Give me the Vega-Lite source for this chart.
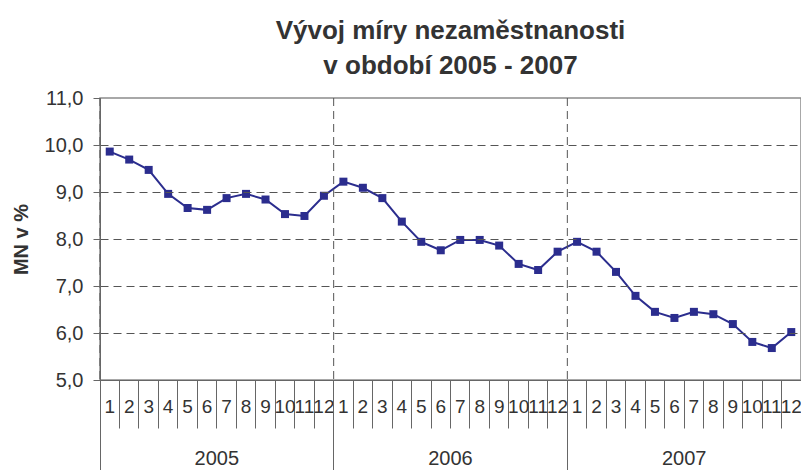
{
  "$schema": "https://vega.github.io/schema/vega-lite/v6.json",
  "width": 701,
  "height": 282,
  "autosize": {"type": "none"},
  "padding": {"left": 100, "top": 98, "right": 0, "bottom": 90},
  "background": "white",
  "config": {
    "font": "Liberation Sans",
    "view": {"stroke": "#8c8c8c", "strokeWidth": 1.5}
  },
  "title": {
    "text": ["Vývoj míry nezaměstnanosti", "v období 2005 - 2007"],
    "fontSize": 26,
    "fontWeight": "bold",
    "font": "Liberation Sans",
    "color": "#333333",
    "lineHeight": 35,
    "anchor": "middle",
    "offset": 9
  },
  "datasets": {
    "mn": [
      {"obdobi": "2005/1", "rok": "2005", "mn": 9.86},
      {"obdobi": "2005/2", "rok": "2005", "mn": 9.69},
      {"obdobi": "2005/3", "rok": "2005", "mn": 9.47},
      {"obdobi": "2005/4", "rok": "2005", "mn": 8.96},
      {"obdobi": "2005/5", "rok": "2005", "mn": 8.66},
      {"obdobi": "2005/6", "rok": "2005", "mn": 8.62},
      {"obdobi": "2005/7", "rok": "2005", "mn": 8.87},
      {"obdobi": "2005/8", "rok": "2005", "mn": 8.96},
      {"obdobi": "2005/9", "rok": "2005", "mn": 8.84},
      {"obdobi": "2005/10", "rok": "2005", "mn": 8.53},
      {"obdobi": "2005/11", "rok": "2005", "mn": 8.49},
      {"obdobi": "2005/12", "rok": "2005", "mn": 8.92},
      {"obdobi": "2006/1", "rok": "2006", "mn": 9.22},
      {"obdobi": "2006/2", "rok": "2006", "mn": 9.09},
      {"obdobi": "2006/3", "rok": "2006", "mn": 8.87},
      {"obdobi": "2006/4", "rok": "2006", "mn": 8.37},
      {"obdobi": "2006/5", "rok": "2006", "mn": 7.94},
      {"obdobi": "2006/6", "rok": "2006", "mn": 7.76},
      {"obdobi": "2006/7", "rok": "2006", "mn": 7.98},
      {"obdobi": "2006/8", "rok": "2006", "mn": 7.98},
      {"obdobi": "2006/9", "rok": "2006", "mn": 7.86},
      {"obdobi": "2006/10", "rok": "2006", "mn": 7.47},
      {"obdobi": "2006/11", "rok": "2006", "mn": 7.34},
      {"obdobi": "2006/12", "rok": "2006", "mn": 7.73},
      {"obdobi": "2007/1", "rok": "2007", "mn": 7.94},
      {"obdobi": "2007/2", "rok": "2007", "mn": 7.73},
      {"obdobi": "2007/3", "rok": "2007", "mn": 7.30},
      {"obdobi": "2007/4", "rok": "2007", "mn": 6.79},
      {"obdobi": "2007/5", "rok": "2007", "mn": 6.45},
      {"obdobi": "2007/6", "rok": "2007", "mn": 6.32},
      {"obdobi": "2007/7", "rok": "2007", "mn": 6.45},
      {"obdobi": "2007/8", "rok": "2007", "mn": 6.40},
      {"obdobi": "2007/9", "rok": "2007", "mn": 6.19},
      {"obdobi": "2007/10", "rok": "2007", "mn": 5.81},
      {"obdobi": "2007/11", "rok": "2007", "mn": 5.68},
      {"obdobi": "2007/12", "rok": "2007", "mn": 6.02}
    ],
    "roky": [
      {"rok": "2005"},
      {"rok": "2006"},
      {"rok": "2007"}
    ]
  },
  "layer": [
    {
      "data": {"name": "mn"},
      "encoding": {
        "x": {
          "field": "obdobi",
          "type": "nominal",
          "sort": null,
          "scale": {"type": "band", "paddingInner": 0, "paddingOuter": 0},
          "axis": {
            "orient": "bottom",
            "title": null,
            "bandPosition": 0,
            "labelExpr": "split(datum.value, '/')[1]",
            "labelAngle": 0,
            "labelOverlap": false,
            "labelBound": false,
            "labelFlush": false,
            "labelFontSize": 19,
            "labelColor": "#333333",
            "labelPadding": -21.5,
            "labelBaseline": "middle",
            "tickSize": 48,
            "tickColor": "#666666",
            "domainColor": "#666666",
            "grid": false
          }
        },
        "y": {
          "field": "mn",
          "type": "quantitative",
          "scale": {"domain": [5, 11], "nice": false, "zero": false},
          "axis": {
            "title": "MN v %",
            "titleFontSize": 20,
            "titleFontWeight": "bold",
            "titleColor": "#333333",
            "titlePadding": 13,
            "values": [5, 6, 7, 8, 9, 10, 11],
            "labelExpr": "replace(format(datum.value, '.1f'), '.', ',')",
            "labelFontSize": 20,
            "labelColor": "#333333",
            "labelPadding": 10,
            "tickSize": 7,
            "tickColor": "#666666",
            "domainColor": "#666666",
            "zindex": 1,
            "grid": true,
            "gridColor": "#555555",
            "gridDash": [8, 5],
            "gridOpacity": {"condition": {"test": "datum.value == 5 || datum.value == 11", "value": 0}, "value": 1}
          }
        }
      },
      "layer": [
        {
          "mark": {"type": "line", "color": "#2b2d8e", "strokeWidth": 2}
        },
        {
          "mark": {"type": "point", "shape": "square", "filled": true, "size": 64, "color": "#2b2d8e", "opacity": 1}
        }
      ]
    },
    {
      "data": {"name": "roky"},
      "mark": {"type": "rule", "color": "#555555", "strokeDash": [8, 5], "strokeWidth": 1},
      "encoding": {
        "x": {
          "field": "rok",
          "type": "nominal",
          "bandPosition": 0,
          "scale": {"type": "band", "domain": ["2005", "2006", "2007"], "paddingInner": 0, "paddingOuter": 0},
          "axis": {
            "orient": "bottom",
            "title": null,
            "bandPosition": 0,
            "domain": false,
            "labelAngle": 0,
            "labelFontSize": 20,
            "labelColor": "#333333",
            "labelBaseline": "middle",
            "labelPadding": -11.5,
            "tickSize": 90,
            "tickColor": "#666666",
            "grid": false
          }
        }
      }
    }
  ],
  "resolve": {"scale": {"x": "independent"}, "axis": {"x": "independent"}}
}
